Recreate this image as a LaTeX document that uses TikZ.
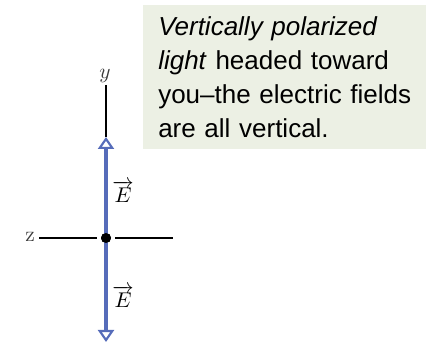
\documentclass[tikz,border=0pt]{standalone}
\usepackage{amsmath}
\usepackage{fontspec}
\newfontfamily\notefont{Liberation Sans}
\usepackage{xcolor}
\usepackage{tikz}
\usetikzlibrary{arrows.meta,positioning,calc}
\definecolor{plblue}{RGB}{86,108,186}
\definecolor{plnotebg}{RGB}{236,240,228}
\definecolor{pllabel}{RGB}{60,60,60}
\newcommand{\plbig}[1]{\scalebox{1.6}{#1}}
\tikzset{
  plaxis/.style={draw=black, line width=0.9pt},
  plfield/.style={draw=plblue, line width=3pt,
    -{Triangle[open,length=9pt,width=12pt,line width=1.6pt]}},
  plorigin/.style={circle, fill=black, minimum size=7.5pt, inner sep=0pt, outer sep=3pt},
  plaxislabel/.style={text=pllabel, inner sep=0pt},
  plfieldlabel/.style={inner sep=0pt, anchor=base},
  plnote/.style={fill=plnotebg, anchor=north west, align=left,
    text width=200pt, minimum width=212pt, minimum height=108pt,
    inner xsep=11.25pt, inner ysep=6pt,
    font=\notefont\fontsize{19.5}{25.5}\selectfont}
}
\begin{document}
\begin{tikzpicture}[x=0.75pt,y=-0.75pt]
  \useasboundingbox (0,0) rectangle (426,346);
  % explanation box
  \node[plnote] (note) at (143,5) {\textit{Vertically polarized}\\
    \textit{light} headed toward\\
    you\textendash the electric fields\\
    are all vertical.};
  % axes
  \node[plorigin] (origin) at (106,238) {};
  \coordinate (ytop) at (106,85);
  \coordinate (zleft) at (39,238);
  \coordinate (zright) at (173,238);
  \coordinate (eup) at (106,137);
  \coordinate (edown) at (106,342);
  \node[plaxislabel,anchor=base] (ylabel) at (105,79) {\plbig{$y$}};
  \node[plaxislabel,anchor=base east] (zlabel) at (35,242) {\plbig{$\mathrm{z}$}};
  \draw[plaxis] (ytop) -- (eup);
  \draw[plaxis] (zleft) -- (origin);
  \draw[plaxis] (origin) -- (zright);
  % field vectors
  \draw[plfield] (origin.center) -- (eup);
  \draw[plfield] (origin.center) -- (edown);
  \node[plorigin] at (origin) {};
  \node[plfieldlabel] (eupl) at (123,203) {\plbig{$\overrightarrow{E}$}};
  \node[plfieldlabel] (edownl) at (123,308) {\plbig{$\overrightarrow{E}$}};
\end{tikzpicture}
\end{document}
